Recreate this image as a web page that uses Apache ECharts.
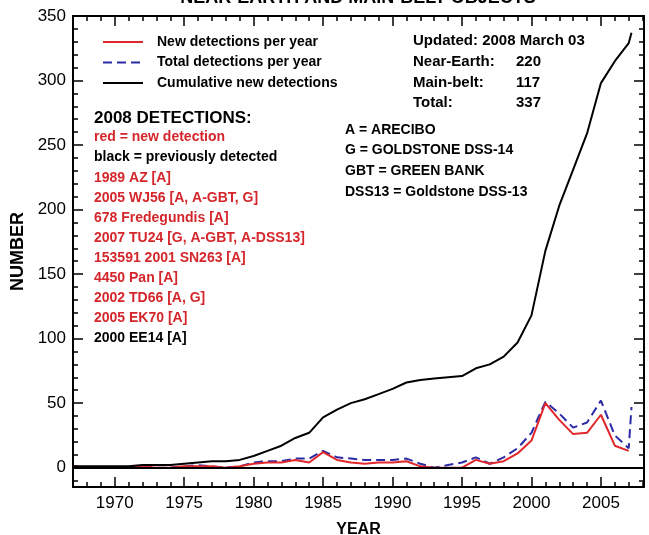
<!DOCTYPE html>
<html>
<head>
<meta charset="utf-8">
<script src="https://cdn.jsdelivr.net/npm/echarts@6/dist/echarts.min.js"></script>
<style>
  html, body { margin: 0; padding: 0; background: #fff; }
  #chart { width: 649px; height: 535px; }
</style>
</head>
<body>
<div id="chart"></div>
<script>
// Year of each sample; the last one is the partial 2008 tally (through early March)
const years = [1967, 1968, 1969, 1970, 1971, 1972, 1973, 1974, 1975, 1976,
  1977, 1978, 1979, 1980, 1981, 1982, 1983, 1984, 1985, 1986,
  1987, 1988, 1989, 1990, 1991, 1992, 1993, 1994, 1995, 1996,
  1997, 1998, 1999, 2000, 2001, 2002, 2003, 2004, 2005, 2006,
  2007, 2007.2];

// Objects detected by radar for the first time in each year
const newPerYear = [1, 0, 0, 0, 0, 1, 0, 0, 1, 1,
  1, 0, 1, 3, 4, 4, 6, 4, 12, 6,
  4, 3, 4, 4, 5, 1, 0, 0, 0, 6,
  3, 5, 11, 21, 50, 37, 26, 27, 41, 17,
  13, null];

// All radar detections in each year (new plus repeat targets)
const totalPerYear = [1, 0, 0, 0, 0, 1, 0, 0, 1, 2,
  1, 0, 1, 4, 5, 5, 7, 7, 13, 8,
  7, 6, 6, 6, 7, 3, 0, 2, 4, 8,
  3, 8, 15, 27, 51, 42, 31, 35, 52, 25,
  15, 47];

// Running total of distinct objects detected
const cumulative = [1, 1, 1, 1, 1, 2, 2, 2, 3, 4,
  5, 5, 6, 9, 13, 17, 23, 27, 39, 45,
  50, 53, 57, 61, 66, 68, 69, 70, 71, 77,
  80, 86, 97, 118, 168, 203, 231, 259, 298, 315,
  329, 337];

const seriesNames = ['New detections per year', 'Total detections per year', 'Cumulative new detections'];

const titleText = 'NEAR-EARTH AND MAIN-BELT OBJECTS';
const updatedText = 'Updated: 2008 March 03';
const statLabels = ['Near-Earth:', 'Main-belt:', 'Total:'];
const statValues = [220, 117, 337];
const stationKey = ['A = ARECIBO', 'G = GOLDSTONE DSS-14', 'GBT = GREEN BANK', 'DSS13 = Goldstone DSS-13'];
const detectionsHeader = '2008 DETECTIONS:';
const detectionLines = ['red = new detection', 'black = previously detected',
  '1989 AZ [A]', '2005 WJ56 [A, A-GBT, G]', '678 Fredegundis [A]',
  '2007 TU24 [G, A-GBT, A-DSS13]', '153591 2001 SN263 [A]', '4450 Pan [A]',
  '2002 TD66 [A, G]', '2005 EK70 [A]', '2000 EE14 [A]'];
const detectionIsNew = [true, false, true, true, true, true, true, true, true, true, false];

const FONT = '"Liberation Sans", Arial, Helvetica, sans-serif';
const RED = '#e0282c';
const RED_TEXT = '#d4262b';
const BLUE = '#2b2ba6';

const pairs = arr => years.map((y, i) => [y, arr[i]]);

const chart = echarts.init(document.getElementById('chart'), null, { renderer: 'canvas' });

const X_MIN = 1967, X_MAX = 2008.1, Y_MIN = -15, Y_MAX = 350;

function frameX(position, withLabels) {
  return {
    type: 'value', position: position, min: X_MIN, max: X_MAX, splitNumber: 8,
    axisLine: { show: true, onZero: false, lineStyle: { color: '#000', width: 2 } },
    axisTick: { show: true, inside: true, length: 10, lineStyle: { color: '#000', width: 1.5 } },
    minorTick: { show: true, splitNumber: 5, length: 5, lineStyle: { color: '#000', width: 1.5 } },
    splitLine: { show: false },
    axisLabel: withLabels
      ? { show: true, showMinLabel: false, showMaxLabel: false, color: '#000', fontSize: 17,
          fontFamily: FONT, margin: 8, formatter: v => String(v) }
      : { show: false },
    name: withLabels ? 'YEAR' : '',
    nameLocation: 'middle', nameGap: 35,
    nameTextStyle: { color: '#000', fontSize: 16, fontWeight: 'bold', fontFamily: FONT }
  };
}

function frameY(position, withLabels) {
  return {
    type: 'value', position: position, min: Y_MIN, max: Y_MAX, splitNumber: 7,
    axisLine: { show: true, onZero: false, lineStyle: { color: '#000', width: 2 } },
    axisTick: { show: true, inside: true, length: 10, lineStyle: { color: '#000', width: 1.5 } },
    minorTick: { show: true, splitNumber: 5, length: 5, lineStyle: { color: '#000', width: 1.5 } },
    splitLine: { show: false },
    axisLabel: withLabels
      ? { show: true, showMinLabel: false, color: '#000', fontSize: 17, fontFamily: FONT, margin: 7,
          formatter: v => String(v) }
      : { show: false },
    name: withLabels ? 'NUMBER' : '',
    nameLocation: 'middle', nameRotate: 90, nameGap: 45,
    nameTextStyle: { color: '#000', fontSize: 18, fontWeight: 'bold', fontFamily: FONT }
  };
}

// Annotation text blocks
const graphics = [];
graphics.push({
  type: 'text', x: 358, y: -2,
  style: { text: titleText, fill: '#000', font: 'bold 18px ' + FONT, align: 'center', verticalAlign: 'middle' }
});
graphics.push({
  type: 'text', x: 413, y: 41,
  style: { text: updatedText, fill: '#000', font: 'bold 15px ' + FONT, verticalAlign: 'middle' }
});
statLabels.forEach((lab, i) => {
  const y = 62 + i * 20.5;
  graphics.push({ type: 'text', x: 413, y: y,
    style: { text: lab, fill: '#000', font: 'bold 15px ' + FONT, verticalAlign: 'middle' } });
  graphics.push({ type: 'text', x: 516, y: y,
    style: { text: String(statValues[i]), fill: '#000', font: 'bold 15px ' + FONT, verticalAlign: 'middle' } });
});
stationKey.forEach((line, i) => {
  graphics.push({ type: 'text', x: 345, y: 130 + i * 20.6,
    style: { text: line, fill: '#000', font: 'bold 14px ' + FONT, verticalAlign: 'middle' } });
});
graphics.push({
  type: 'text', x: 94, y: 118,
  style: { text: detectionsHeader, fill: '#000', font: 'bold 17px ' + FONT, verticalAlign: 'middle' }
});
detectionLines.forEach((line, i) => {
  graphics.push({ type: 'text', x: 94, y: 137.5 + i * 20.1,
    style: { text: line, fill: detectionIsNew[i] ? RED_TEXT : '#000', font: 'bold 14px ' + FONT, verticalAlign: 'middle' } });
});

chart.setOption({
  animation: false,
  backgroundColor: '#fff',
  textStyle: { fontFamily: FONT },
  grid: { left: 73, right: 5, top: 16, bottom: 48, containLabel: false, outerBoundsMode: 'none' },
  legend: {
    data: seriesNames,
    orient: 'vertical', left: 102, top: 35, padding: 0,
    itemWidth: 40, itemHeight: 14, itemGap: 6.5,
    itemStyle: { opacity: 0 },
    textStyle: { color: '#000', fontSize: 14, fontWeight: 'bold', fontFamily: FONT, padding: [0, 0, 0, 9] },
    selectedMode: false
  },
  xAxis: [frameX('bottom', true), frameX('top', false)],
  yAxis: [frameY('left', true), frameY('right', false)],
  graphic: graphics,
  series: [
    {
      name: seriesNames[1], type: 'line', xAxisIndex: 0, yAxisIndex: 0,
      data: pairs(totalPerYear), symbol: 'none', connectNulls: false,
      lineStyle: { color: BLUE, width: 2, type: [9, 5] }, itemStyle: { color: BLUE }, z: 3
    },
    {
      name: seriesNames[0], type: 'line', xAxisIndex: 0, yAxisIndex: 0,
      data: pairs(newPerYear), symbol: 'none', connectNulls: false,
      lineStyle: { color: RED, width: 2 }, itemStyle: { color: RED }, z: 4,
      markLine: {
        silent: true, symbol: 'none', label: { show: false },
        lineStyle: { color: '#000', width: 2, type: 'solid' },
        data: [{ yAxis: 0 }]
      }
    },
    {
      name: seriesNames[2], type: 'line', xAxisIndex: 0, yAxisIndex: 0,
      data: pairs(cumulative), symbol: 'none',
      lineStyle: { color: '#000', width: 2 }, itemStyle: { color: '#000' }, z: 5
    }
  ]
});
</script>
</body>
</html>
